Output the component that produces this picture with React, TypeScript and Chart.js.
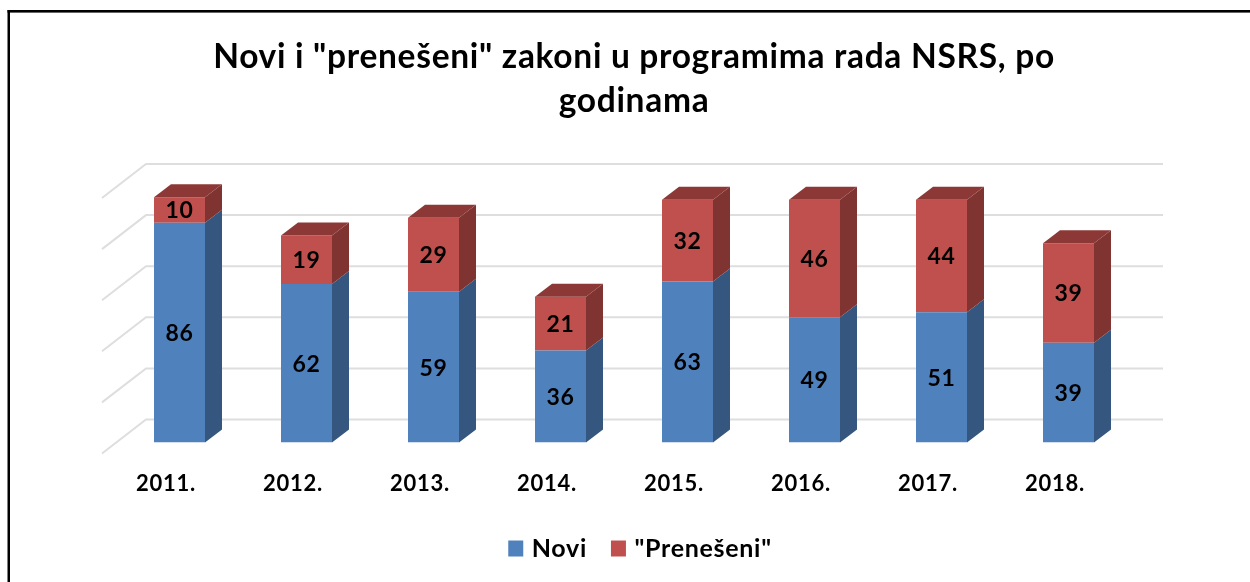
import React, { useEffect, useRef } from "react";
import { Chart, registerables } from "chart.js";

Chart.register(...registerables);

const categories = ["2011.", "2012.", "2013.", "2014.", "2015.", "2016.", "2017.", "2018."];
const novi = [86, 62, 59, 36, 63, 49, 51, 39];
const preneseni = [10, 19, 29, 21, 32, 46, 44, 39];
const titleLines = ['Novi i "prenešeni" zakoni u programima rada NSRS, po', "godinama"];

const FONT = "Lato, Carlito, 'Open Sans', sans-serif";
const BAR_DX = 17;
const BAR_DY = -13;
const LETTER_SPACING = "0.7px";

const poly = (ctx: CanvasRenderingContext2D, pts: number[][], color: string) => {
  ctx.fillStyle = color;
  ctx.beginPath();
  pts.forEach(([x, y], i) => (i ? ctx.lineTo(x, y) : ctx.moveTo(x, y)));
  ctx.closePath();
  ctx.fill();
};

const frame3d = {
  id: "frame3d",
  beforeUpdate(chart: any) {
    chart.ctx.letterSpacing = LETTER_SPACING;
  },
  afterLayout(chart: any) {
    chart.titleBlock.left = 18;
    chart.titleBlock.right = 1250;
    chart.legend.left += 18;
    chart.legend.right += 18;
  },
  beforeDraw(chart: any) {
    const { ctx, width, height } = chart;
    ctx.letterSpacing = LETTER_SPACING;
    ctx.save();
    ctx.fillStyle = "#000000";
    ctx.fillRect(7.5, 10, 2.5, height - 10);
    ctx.fillRect(7.5, 10, width - 7.5, 2.6);
    ctx.restore();
  },
  beforeDatasetsDraw(chart: any) {
    const { ctx, chartArea, scales } = chart;
    ctx.save();
    ctx.strokeStyle = "#dedede";
    ctx.lineWidth = 2;
    const backL = chartArea.left + 30;
    const backR = chartArea.right + 31;
    const frontL = chartArea.left - 14;
    scales.y.ticks.forEach((t: any) => {
      const y = scales.y.getPixelForValue(t.value);
      ctx.beginPath();
      ctx.moveTo(frontL, y + 11);
      ctx.lineTo(backL, y - 23);
      ctx.lineTo(backR, y - 23);
      ctx.stroke();
    });
    ctx.restore();
  },
  afterDatasetsDraw(chart: any) {
    const { ctx } = chart;
    const sideColors = ["#34567f", "#7f3432"];
    const topColor = "#8c3836";
    ctx.save();
    chart.data.datasets.forEach((ds: any, di: number) => {
      chart.getDatasetMeta(di).data.forEach((bar: any) => {
        const { x, y, base, width } = bar.getProps(["x", "y", "base", "width"], true);
        const r = x + width / 2;
        const l = x - width / 2;
        poly(ctx, [[r, y], [r + BAR_DX, y + BAR_DY], [r + BAR_DX, base + BAR_DY], [r, base]], sideColors[di]);
        if (di === chart.data.datasets.length - 1) {
          poly(ctx, [[l, y], [l + BAR_DX, y + BAR_DY], [r + BAR_DX, y + BAR_DY], [r, y]], topColor);
        }
      });
    });
    ctx.fillStyle = "#000000";
    ctx.font = `bold 23px ${FONT}`;
    ctx.textAlign = "center";
    ctx.textBaseline = "middle";
    chart.data.datasets.forEach((ds: any, di: number) => {
      chart.getDatasetMeta(di).data.forEach((bar: any, i: number) => {
        const { x, y, base } = bar.getProps(["x", "y", "base"], true);
        ctx.fillText(String(ds.data[i]), x, (y + base) / 2 + 1);
      });
    });
    ctx.restore();
  },
};

export default function App() {
  const ref = useRef<HTMLCanvasElement>(null);
  useEffect(() => {
    const chart = new Chart(ref.current!, {
      type: "bar",
      data: {
        labels: categories,
        datasets: [
          { label: "Novi", data: novi, backgroundColor: "#4f81bd", stack: "s" },
          { label: '"Prenešeni"', data: preneseni, backgroundColor: "#c0504d", stack: "s" },
        ],
      },
      plugins: [frame3d],
      options: {
        responsive: false,
        animation: false,
        devicePixelRatio: 1,
        categoryPercentage: 1,
        barPercentage: 51 / 127,
        layout: { padding: { left: 116, right: 118, top: 0, bottom: 11 } },
        scales: {
          x: {
            stacked: true,
            grid: { display: false },
            border: { display: false },
            ticks: {
              color: "#000000",
              font: { family: FONT, size: 22, weight: "bold" },
              padding: 20.5,
              labelOffset: -13.5,
              maxRotation: 0,
            },
            afterFit: (s: any) => { s.height = 65.5; },
          },
          y: {
            display: false,
            stacked: true,
            min: 0,
            max: 100,
            ticks: { stepSize: 20 },
          },
        },
        plugins: {
          title: {
            display: true,
            text: titleLines,
            color: "#000000",
            font: { family: FONT, size: 33.5, weight: "bold", lineHeight: 1.3 },
            padding: { top: 35.5, bottom: 64.4 },
          },
          legend: {
            display: true,
            position: "bottom",
            labels: {
              color: "#000000",
              font: { family: FONT, size: 25, weight: "bold" },
              boxWidth: 7,
              boxHeight: 8,
              padding: 28,
              generateLabels: (c: any) =>
                Chart.defaults.plugins.legend.labels.generateLabels(c).map((it: any) => ({
                  ...it,
                  strokeStyle: it.fillStyle,
                  lineWidth: 8,
                })),
            },
          },
          tooltip: { enabled: false },
        },
      } as any,
    });
    return () => chart.destroy();
  }, []);
  return (
    <canvas
      ref={ref}
      width={1250}
      height={582}
      style={{ position: "fixed", left: 0, top: 0, width: 1250, height: 582, filter: "blur(0.35px)" }}
    />
  );
}
